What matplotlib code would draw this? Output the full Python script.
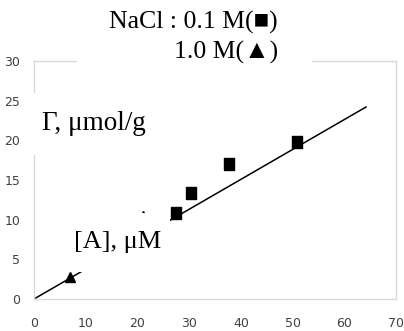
import matplotlib
matplotlib.use("Agg")
import matplotlib.pyplot as plt
from matplotlib.patches import Rectangle

# NaCl 0.1 M (squares)
sq_x = [27.5, 30.4, 37.8, 50.8]
sq_y = [10.8, 13.4, 17.0, 19.8]
# NaCl 1.0 M (triangles)
tri_x = [7.0, 21.0]
tri_y = [2.8, 10.4]
# fitted line
fit_x = [0, 64.2]
fit_y = [0, 24.2]

x_ticks = [0, 10, 20, 30, 40, 50, 60, 70]
y_ticks = [0, 5, 10, 15, 20, 25, 30]

W, H = 404, 331
fig = plt.figure(figsize=(W / 100, H / 100), dpi=100)
ax = fig.add_axes([34 / W, 1 - 299 / H, (396 - 34) / W, (299 - 61) / H])

# squares in the original are a bit taller than wide
tall_sq = [(-0.4, -0.5), (0.4, -0.5), (0.4, 0.5), (-0.4, 0.5), (-0.4, -0.5)]

ax.plot(fit_x, fit_y, color="black", lw=1.1, zorder=2)
ax.plot(sq_x, sq_y, ls="none", marker=tall_sq, color="black", ms=8.5, zorder=3)
ax.plot(tri_x, tri_y, "^", color="black", ms=7, zorder=3)

ax.set_xlim(0, 70)
ax.set_ylim(0, 30)
ax.set_xticks(x_ticks)
ax.set_yticks(y_ticks)
for s in ax.spines.values():
    s.set_color("#d9d9d9")
    s.set_linewidth(1)
ax.tick_params(length=0, pad=10, labelsize=9, labelcolor="#404040")
for lab in ax.get_xticklabels() + ax.get_yticklabels():
    lab.set_family(["Liberation Sans Narrow", "DejaVu Sans"])
ax.tick_params(axis="x", pad=13)


def box(x0, y0, x1, y1):
    r = Rectangle((x0 / W, 1 - y1 / H), (x1 - x0) / W, (y1 - y0) / H,
                  transform=fig.transFigure, facecolor="white",
                  edgecolor="none", zorder=5)
    fig.add_artist(r)


serif = ["Liberation Serif", "DejaVu Serif"]
box(77, 0, 312, 66)
box(28, 93, 170, 155)
box(79, 213, 170, 272)

fig.text(278 / W, 1 - 22 / H, "NaCl : 0.1 M(\u25a0)", ha="right", va="center",
         fontsize=18.5, family=serif + ["DejaVu Sans"], zorder=6)
fig.text(278 / W, 1 - 52 / H, "1.0 M(\u25b2)", ha="right", va="center",
         fontsize=18.5, family=serif + ["DejaVu Sans"], zorder=6)
fig.text(42 / W, 1 - 124 / H, "\u0393, \u03bcmol/g", ha="left", va="center",
         fontsize=19.5, family=serif, zorder=6)
fig.text(74 / W, 1 - 242 / H, "[A], \u03bcM", ha="left", va="center",
         fontsize=19, family=serif, zorder=6)

fig.savefig("out.png", dpi=100)
